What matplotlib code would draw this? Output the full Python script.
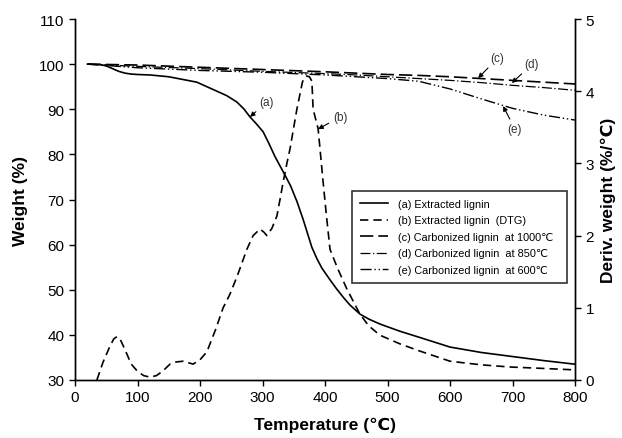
import numpy as np
import matplotlib.pyplot as plt

plt.rcParams['font.family'] = ['Liberation Sans', 'DejaVu Sans']

# (a) extracted lignin, weight %
t_a = [20, 40, 50, 60, 70, 80, 90, 100, 120, 150, 195, 227, 243, 259, 270, 280, 290,
       301, 310, 320, 336, 345, 355, 365, 372, 379, 387, 395, 408, 418, 430, 440,
       456, 470, 488, 520, 550, 600, 650, 700, 750, 800]
w_a = [100, 99.9, 99.6, 99.0, 98.4, 98.0, 97.8, 97.7, 97.6, 97.2, 96.0, 94.0, 93.0,
       91.6, 90.1, 88.3, 86.8, 85.0, 82.5, 79.5, 75.4, 73.0, 69.6, 65.6, 62.5, 59.4,
       56.9, 54.8, 52.2, 50.3, 48.2, 46.6, 44.6, 43.5, 42.4, 40.8, 39.5, 37.3, 36.1,
       35.2, 34.3, 33.5]

# (b) extracted lignin DTG, %/C
t_b = [35, 45, 55, 62, 67, 72, 80, 90, 100, 110, 120, 130, 140, 152, 162, 173, 189,
       200, 211, 225, 237, 248, 260, 275, 285, 296, 302, 307, 315, 323, 328, 333,
       339, 344, 350, 355, 364, 368, 371, 375, 379, 381, 389, 397, 402, 408, 420,
       435, 456, 470, 488, 520, 552, 600, 650, 696, 750, 800]
d_b = [0.0, 0.25, 0.45, 0.57, 0.6, 0.57, 0.42, 0.22, 0.12, 0.06, 0.04, 0.06, 0.12,
       0.22, 0.25, 0.26, 0.22, 0.28, 0.39, 0.7, 1.0, 1.19, 1.45, 1.81, 2.0, 2.09,
       2.05, 2.0, 2.1, 2.27, 2.5, 2.74, 3.0, 3.2, 3.5, 3.75, 4.13, 4.2, 4.21, 4.2,
       4.14, 3.75, 3.48, 2.74, 2.3, 1.81, 1.55, 1.26, 0.91, 0.75, 0.62, 0.5, 0.40,
       0.26, 0.21, 0.18, 0.16, 0.14]

# (c), (d), (e) carbonized lignin, weight %
t_cde = [20, 100, 200, 300, 400, 450, 500, 550, 600, 650, 700, 750, 800]
w_c = [100, 99.8, 99.3, 98.8, 98.3, 98.0, 97.7, 97.5, 97.2, 96.8, 96.4, 96.0, 95.6]
w_d = [100, 99.5, 99.0, 98.4, 97.9, 97.6, 97.2, 96.8, 96.4, 95.9, 95.3, 94.8, 94.2]
w_e = [100, 99.2, 98.6, 98.2, 97.6, 97.2, 96.8, 96.2, 94.5, 92.3, 90.2, 88.7, 87.6]

labels = ['(a) Extracted lignin', '(b) Extracted lignin  (DTG)',
          '(c) Carbonized lignin  at 1000\u2103', '(d) Carbonized lignin  at 850\u2103',
          '(e) Carbonized lignin  at 600\u2103']

fig = plt.figure(figsize=(6.22, 4.39), dpi=100)
ax = fig.add_axes([75/622, 1-381/439, 500/622, 361/439])
ax2 = ax.twinx()

la, = ax.plot(t_a, w_a, color='black', lw=1.2, ls='-')
lb, = ax2.plot(t_b, d_b, color='black', lw=1.2, ls=(0, (5, 3)))
lc, = ax.plot(t_cde, w_c, color='black', lw=1.2, ls=(0, (8, 3)))
ld, = ax.plot(t_cde, w_d, color='black', lw=0.9, ls=(0, (8, 2, 1, 2)))
le, = ax.plot(t_cde, w_e, color='black', lw=1.0, ls=(0, (8, 2, 1, 2, 1, 2)))

ax.set_xlim(0, 800)
ax.set_ylim(30, 110)
ax2.set_ylim(0, 5)
ax.set_xticks(np.arange(0, 801, 100))
ax.set_yticks(np.arange(30, 111, 10))
ax2.set_yticks(np.arange(0, 6, 1))
for a in (ax, ax2):
    a.tick_params(direction='out', length=4, width=1, labelsize=11, colors='black')
    for s in a.spines.values():
        s.set_linewidth(1)
ax.spines['top'].set_visible(False)
ax2.spines['top'].set_visible(False)

ax.set_xlabel('Temperature (\u2103)', fontsize=12.5, fontweight='bold', labelpad=9)
ax.set_ylabel('Weight (%)', fontsize=12.5, fontweight='bold', labelpad=8)
ax2.set_ylabel('Deriv. weight (%/\u2103)', fontsize=12.5, fontweight='bold', labelpad=5)

arrow = dict(arrowstyle='-|>', color='black', lw=0.8, mutation_scale=7, shrinkA=1, shrinkB=0)
notes = [('(a)', (280, 88.3), (307, 91.6)),
         ('(b)', (389, 85.6), (424, 88.3)),
         ('(c)', (645, 96.9), (676, 101.3)),
         ('(d)', (699, 95.8), (731, 100.0)),
         ('(e)', (685, 90.7), (704, 85.6))]
for txt, tip, pos in notes:
    ax.annotate(txt, xy=tip, xytext=pos, fontsize=8.5, color='#333333',
                ha='center', va='center', arrowprops=arrow)

leg = ax2.legend([la, lb, lc, ld, le], labels, loc='lower left',
                 bbox_to_anchor=(0.554, 0.27, 0.43, 0.25), mode='expand',
                 borderaxespad=0, fontsize=7.8, frameon=True, fancybox=False,
                 handlelength=2.6, borderpad=0.7, labelspacing=0.6,
                 handletextpad=0.9)
leg.get_frame().set_edgecolor('black')
leg.get_frame().set_linewidth(1.2)

fig.savefig('out.png', dpi=100)
